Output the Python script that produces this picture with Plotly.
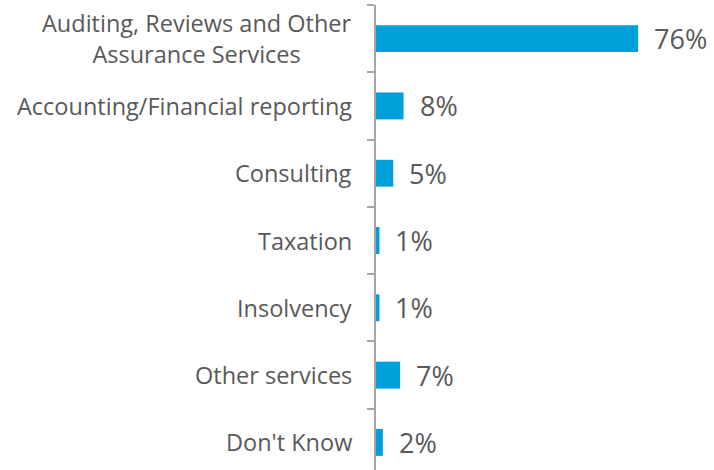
import plotly.graph_objects as go

categories = [
    "Auditing, Reviews and Other<br>Assurance Services",
    "Accounting/Financial reporting",
    "Consulting",
    "Taxation",
    "Insolvency",
    "Other services",
    "Don't Know",
]
values = [76, 8, 5, 1, 1, 7, 2]
value_labels = [f"{v}%" for v in values]

BAR = "#009FDA"
TEXT = "#595959"
AXIS = "#A6A6A6"
FONT = "Open Sans"

fig = go.Figure(
    go.Bar(
        x=values,
        y=categories,
        orientation="h",
        width=0.4,
        marker=dict(color=BAR, line=dict(width=0)),
        hoverinfo="skip",
    )
)

annotations = []
# value labels just past each bar end
for cat, v, lab in zip(categories, values, value_labels):
    annotations.append(dict(
        x=v, y=cat, xref="x", yref="y", text=lab, showarrow=False,
        xanchor="left", yanchor="middle", xshift=14,
        font=dict(family=FONT, size=27, color=TEXT),
    ))
# category labels, centred multi-line text right-aligned to the axis
for cat in categories:
    annotations.append(dict(
        x=0, y=cat, xref="paper", yref="y", text=cat, showarrow=False,
        xanchor="right", yanchor="middle", align="center", xshift=-22,
        font=dict(family=FONT, size=23.5, color=TEXT),
    ))

fig.update_layout(
    width=714, height=470,
    margin=dict(l=376, r=0, t=5, b=0),
    paper_bgcolor="white", plot_bgcolor="white",
    showlegend=False,
    annotations=annotations,
    xaxis=dict(range=[0, 98], visible=False, showgrid=False, zeroline=False),
    yaxis=dict(
        type="category",
        range=[6.41, -0.5],
        showticklabels=False,
        showgrid=False, zeroline=False,
        showline=True, linecolor=AXIS, linewidth=2,
        ticks="outside", tickson="boundaries", ticklen=7,
        tickcolor=AXIS, tickwidth=2,
    ),
)

fig.write_html("out.html")
